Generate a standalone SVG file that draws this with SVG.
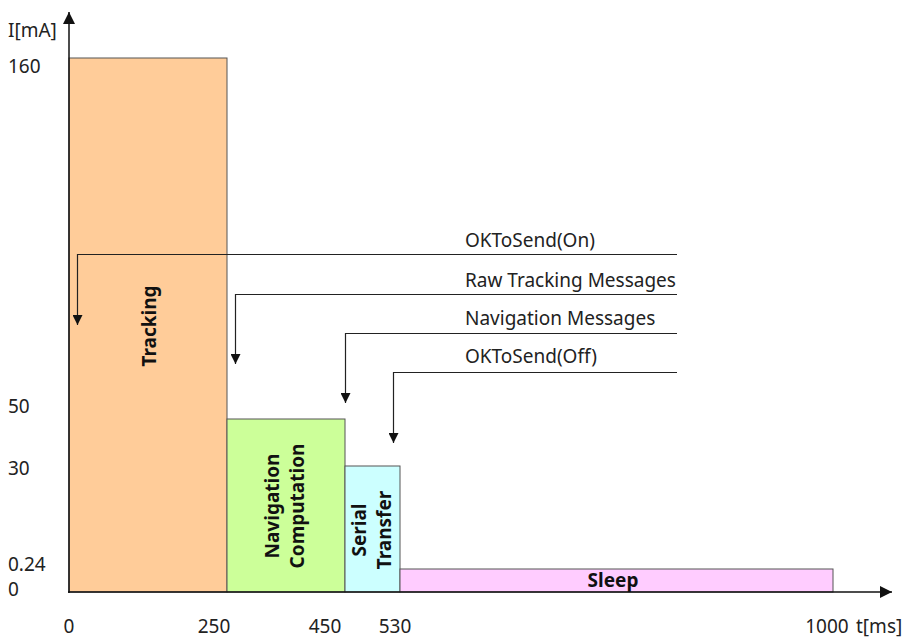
<svg xmlns="http://www.w3.org/2000/svg" width="911" height="639" viewBox="0 0 911 639">
<style>
  .lbl{font-family:"Noto Sans","DejaVu Sans",sans-serif;font-size:19px;fill:#222}
  .bold{font-family:"Noto Sans","DejaVu Sans",sans-serif;font-size:19px;font-weight:bold;fill:#111}
  .bar{stroke:#555;stroke-width:1}
  .sig{fill:none;stroke:#222;stroke-width:1.2}
</style>
<defs>
  <marker id="ah" viewBox="0 0 10 10" refX="10" refY="5" markerWidth="10" markerHeight="10" markerUnits="userSpaceOnUse" orient="auto">
    <path d="M0,0 L10,5 L0,10 Z" fill="#111"/>
  </marker>
  <marker id="ax" viewBox="0 0 10 10" refX="10" refY="5" markerWidth="12" markerHeight="12" markerUnits="userSpaceOnUse" orient="auto">
    <path d="M0,0 L10,5 L0,10 Z" fill="#111"/>
  </marker>
</defs>
<rect width="911" height="639" fill="#fff"/>
<g id="tracking">
  <rect class="bar" x="69" y="58" width="158" height="534" fill="#FFCC99"/>
  <text class="bold" transform="translate(156,326) rotate(-90)" text-anchor="middle">Tracking</text>
</g>
<g id="navigation">
  <rect class="bar" x="227" y="419" width="118" height="173" fill="#CCFF99"/>
  <text class="bold" transform="translate(279,506) rotate(-90)" text-anchor="middle">Navigation</text>
  <text class="bold" transform="translate(304,506) rotate(-90)" text-anchor="middle">Computation</text>
</g>
<g id="serial">
  <rect class="bar" x="345" y="466" width="55" height="126" fill="#CCFFFF"/>
  <text class="bold" transform="translate(366,530) rotate(-90)" text-anchor="middle">Serial</text>
  <text class="bold" transform="translate(391,530) rotate(-90)" text-anchor="middle">Transfer</text>
</g>
<g id="sleep">
  <rect class="bar" x="400" y="569" width="433" height="23" fill="#FFCCFF"/>
  <text class="bold" x="613" y="587" text-anchor="middle">Sleep</text>
</g>
<g id="axes">
  <line x1="69" y1="593" x2="69" y2="12" stroke="#111" stroke-width="1.5" marker-end="url(#ax)"/>
  <line x1="68" y1="592" x2="892" y2="592" stroke="#111" stroke-width="1.5" marker-end="url(#ax)"/>
</g>
<g id="connectors">
  <path class="sig" d="M677,254.5 H77.5 V325" marker-end="url(#ah)"/>
  <path class="sig" d="M677,294.5 H235.5 V364" marker-end="url(#ah)"/>
  <path class="sig" d="M677,333.5 H345.5 V403" marker-end="url(#ah)"/>
  <path class="sig" d="M677,372.5 H393.5 V443" marker-end="url(#ah)"/>
</g>
<g id="labels">
  <text class="lbl" x="465" y="247">OKToSend(On)</text>
  <text class="lbl" x="465" y="287">Raw Tracking Messages</text>
  <text class="lbl" x="465" y="325">Navigation Messages</text>
  <text class="lbl" x="465" y="363">OKToSend(Off)</text>
  <text class="lbl" x="8" y="37">I[mA]</text>
  <text class="lbl" x="8" y="73">160</text>
  <text class="lbl" x="8" y="413">50</text>
  <text class="lbl" x="8" y="475">30</text>
  <text class="lbl" x="8" y="571" font-size="18">0.24</text>
  <text class="lbl" x="8" y="596" font-size="18">0</text>
  <text class="lbl" x="69" y="633" text-anchor="middle">0</text>
  <text class="lbl" x="214" y="633" text-anchor="middle">250</text>
  <text class="lbl" x="325" y="633" text-anchor="middle">450</text>
  <text class="lbl" x="395" y="633" text-anchor="middle">530</text>
  <text class="lbl" x="827" y="633" text-anchor="middle">1000</text>
  <text class="lbl" x="856" y="633">t[ms]</text>
</g>
</svg>
